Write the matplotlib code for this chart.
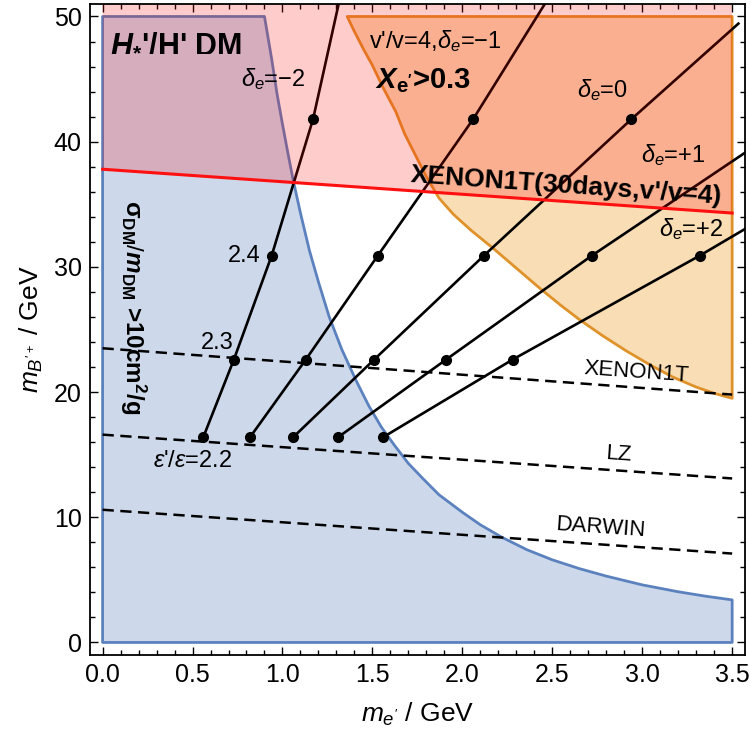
import matplotlib
matplotlib.use("Agg")
import matplotlib.pyplot as plt
from matplotlib.ticker import MultipleLocator
import numpy as np

plt.rcParams['font.family'] = ['Liberation Sans', 'DejaVu Sans']
plt.rcParams['mathtext.fontset'] = 'custom'
plt.rcParams['mathtext.rm'] = 'Liberation Sans'
plt.rcParams['mathtext.it'] = 'Liberation Sans:italic'
plt.rcParams['mathtext.bf'] = 'Liberation Sans:bold'
plt.rcParams['mathtext.bfit'] = 'Liberation Sans:bold:italic'

# ---------------- data ----------------
# sigma_DM/m_DM > 10 cm^2/g boundary (blue region)
blue_x = [0.0, 0.90, 0.94, 0.97, 1.00, 1.03, 1.06, 1.10, 1.15, 1.20, 1.26, 1.33, 1.41, 1.48, 1.55,
          1.62, 1.70, 1.78, 1.87, 2.00, 2.10, 2.22, 2.36, 2.50, 2.65, 2.80, 3.00, 3.20, 3.35, 3.50]
blue_y = [50.0, 50.0, 46.6, 43.8, 41.4, 39.1, 36.9, 34.3, 31.3, 28.8, 26.0, 23.4, 20.9, 18.9, 17.2,
          15.8, 14.3, 13.1, 11.8, 10.4, 9.4, 8.4, 7.4, 6.6, 5.9, 5.3, 4.6, 4.05, 3.7, 3.4]

# X_e' > 0.3 boundary (orange region)
orange_x = [1.36, 1.40, 1.45, 1.50, 1.56, 1.63, 1.68, 1.74, 1.80, 1.87, 1.95, 2.05, 2.17, 2.30,
            2.43, 2.55, 2.65, 2.78, 2.91, 3.04, 3.17, 3.30, 3.40, 3.50]
orange_y = [50.0, 48.8, 47.4, 46.1, 44.3, 42.4, 40.6, 38.9, 37.2, 35.5, 34.2, 32.9, 31.5, 29.9,
            28.3, 26.9, 25.8, 24.5, 23.3, 22.2, 21.2, 20.4, 19.9, 19.5]

# XENON1T (30 days, v'/v=4) red line
red_x = [0.0, 3.5]
red_y = [37.8, 34.3]

# direct detection projections (dashed)
dd_names = ["XENON1T", "LZ", "DARWIN"]
dd_x = [0.0, 3.5]
dd_y = [[23.5, 19.8], [16.6, 13.1], [10.6, 7.1]]

# contours of delta_e with eps'/eps markers
delta_e = [-2, -1, 0, 1, 2]
eps_ratio = [2.2, 2.3, 2.4, 2.5]
dot_y = [16.4, 22.6, 30.9, 41.8]
dot_x = {
    -2: [0.56, 0.73, 0.94, 1.17],
    -1: [0.82, 1.13, 1.53, 2.06],
    0: [1.06, 1.51, 2.12, 2.94],
    1: [1.31, 1.91, 2.72],
    2: [1.56, 2.28, 3.32],
}
end_x = {-2: 1.32, -1: 2.48, 0: 3.54, 1: 3.58, 2: 3.58}
end_y = {-2: 51.5, -1: 51.5, 0: 49.5, 1: 39.2, 2: 33.1}

x_max = 3.5
y_top = 50.0

# ---------------- figure ----------------
fig = plt.figure(figsize=(7.5, 7.5), dpi=100)
ax = fig.add_axes([0.12, 0.1267, 0.873, 0.868])
ax.set_xlim(-0.07, 3.57)
ax.set_ylim(-1.0, 51.0)

blue_edge = '#5b82be'
orange_edge = '#e0922a'

# blue region
bx = [0.0] + blue_x + [x_max, 0.0]
by = [0.0] + blue_y + [0.0, 0.0]
ax.fill(bx, by, facecolor=(90/255, 130/255, 190/255, 0.30), edgecolor=blue_edge,
        linewidth=2.0, zorder=1, joinstyle='round')

# orange region
ox = orange_x + [x_max, orange_x[0]]
oy = orange_y + [y_top, y_top]
ax.fill(ox, oy, facecolor=(240/255, 160/255, 40/255, 0.35), edgecolor=orange_edge,
        linewidth=2.0, zorder=1.5, joinstyle='round')

# delta_e lines
for d in delta_e:
    xs = dot_x[d] + [end_x[d]]
    ys = dot_y[:len(dot_x[d])] + [end_y[d]]
    ax.plot(xs, ys, color='black', lw=1.9, zorder=2, solid_capstyle='butt')

# pink region above red line (drawn above lines)
ax.fill_between(red_x, red_y, [52, 52], facecolor=(1, 0, 0, 0.2), edgecolor='none', zorder=2.5)

# red line
ax.plot(red_x, red_y, color='#ff1010', lw=2.2, zorder=3)

# dashed lines
for name, ys in zip(dd_names, dd_y):
    ax.plot(dd_x, ys, color='black', lw=1.8, linestyle=(0, (4.5, 2.6)), zorder=3)

# dots
for d in delta_e:
    ax.plot(dot_x[d], dot_y[:len(dot_x[d])], 'o', color='black', ms=7, zorder=4)

# ---------------- texts ----------------
fs = 17
ax.text(0.04, 47.9, r"$\mathbfit{H}_{\mathbf{*}}$'/H' DM", fontsize=22, fontweight='bold',
        ha='left', va='center', zorder=5)
ax.text(0.95, 45.0, r"$\delta_e$=−2", fontsize=fs, ha='center', va='center', zorder=5)
ax.text(1.85, 48.0, r"v'/v=4,$\delta_e$=−1", fontsize=fs, ha='center', va='center', zorder=5)
ax.text(1.78, 44.9, r"$\mathbfit{X}_{\mathbf{e'}}$>0.3", fontsize=21, fontweight='bold',
        ha='center', va='center', zorder=5)
ax.text(2.78, 44.1, r"$\delta_e$=0", fontsize=fs, ha='center', va='center', zorder=5)
ax.text(3.17, 38.9, r"$\delta_e$=+1", fontsize=fs, ha='center', va='center', zorder=5)
ax.text(3.27, 33.0, r"$\delta_e$=+2", fontsize=fs, ha='center', va='center', zorder=5)
ax.text(2.58, 36.5, "XENON1T(30days,v'/v=4)", fontsize=19, fontweight='bold',
        ha='center', va='center', rotation=-4, rotation_mode='anchor', zorder=5)
ax.text(0.79, 30.9, "2.4", fontsize=fs, ha='center', va='center', zorder=5)
ax.text(0.64, 23.9, "2.3", fontsize=fs, ha='center', va='center', zorder=5)
ax.text(0.50, 14.5, r"$\epsilon$'/$\epsilon$=2.2", fontsize=fs, ha='center', va='center', zorder=5)
ax.text(0.17, 26.8, r"$\mathbf{\sigma}_{\mathbf{DM}}/\mathbfit{m}_{\mathbf{DM}}$ >10cm$^{\mathbf{2}}$/g",
        fontsize=17.5, fontweight='bold', rotation=-90, ha='center', va='center', zorder=5)
ax.text(2.97, 21.55, "XENON1T", fontsize=16, ha='center', va='center', rotation=-4,
        rotation_mode='anchor', zorder=5)
ax.text(2.87, 15.0, "LZ", fontsize=16, ha='center', va='center', rotation=-4,
        rotation_mode='anchor', zorder=5)
ax.text(2.77, 9.2, "DARWIN", fontsize=16, ha='center', va='center', rotation=-4,
        rotation_mode='anchor', zorder=5)

# ---------------- axes ----------------
ax.set_xlabel(r"$m_{e^{\prime}}$ / GeV", fontsize=19, labelpad=10)
ax.set_ylabel(r"$m_{B^{\prime +}}$ / GeV", fontsize=19, labelpad=6)
ax.xaxis.set_minor_locator(MultipleLocator(0.1))
ax.yaxis.set_minor_locator(MultipleLocator(2))
ax.set_xticks([0.0, 0.5, 1.0, 1.5, 2.0, 2.5, 3.0, 3.5])
ax.set_xticklabels(["0.0", "0.5", "1.0", "1.5", "2.0", "2.5", "3.0", "3.5"])
ax.set_yticks([0, 10, 20, 30, 40, 50])
ax.tick_params(which='both', direction='in', top=True, right=True, labelsize=18, width=1.0)
ax.tick_params(which='major', length=6, pad=6)
ax.tick_params(which='minor', length=3.5)
for s in ax.spines.values():
    s.set_linewidth(1.3)

fig.savefig("out.png", dpi=100)
